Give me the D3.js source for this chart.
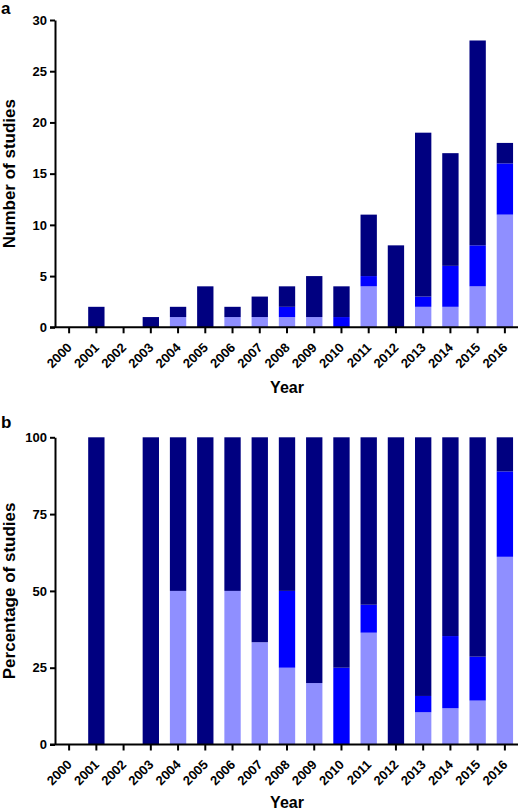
<!DOCTYPE html>
<html>
<head>
<meta charset="utf-8">
<script src="https://cdn.jsdelivr.net/npm/d3@7"></script>
<style>
  body { margin: 0; background: #fff; }
  svg { display: block; }
  text { font-family: "Liberation Sans", Arial, Helvetica, sans-serif; font-weight: bold; fill: #000; }
</style>
</head>
<body>
<svg id="chart" width="520" height="811"></svg>
<script>
// ---- Data ----
const years = ["2000","2001","2002","2003","2004","2005","2006","2007","2008","2009","2010","2011","2012","2013","2014","2015","2016"];
const seriesKeys = ["light", "mid", "dark"];
// Panel a: number of studies
const countLight = [0, 0, 0, 0, 1, 0, 1, 1, 1, 1, 0, 4, 0, 2, 2, 4, 11];
const countMid   = [0, 0, 0, 0, 0, 0, 0, 0, 1, 0, 1, 1, 0, 1, 4, 4, 5];
const countDark  = [0, 2, 0, 1, 1, 4, 1, 2, 2, 4, 3, 6, 8, 16, 11, 20, 2];
// Panel b: percentage of studies
const pctLight = [0, 0, 0, 0, 50, 0, 50, 33.3, 25, 20, 0, 36.4, 0, 10.5, 11.8, 14.3, 61.1];
const pctMid   = [0, 0, 0, 0, 0, 0, 0, 0, 25, 0, 25, 9.1, 0, 5.3, 23.5, 14.3, 27.8];
const pctDark  = [0, 100, 0, 100, 50, 100, 50, 66.7, 50, 80, 75, 54.5, 100, 84.2, 64.7, 71.4, 11.1];
const countTicks = [0, 5, 10, 15, 20, 25, 30];
const pctTicks = [0, 25, 50, 75, 100];

const colors = { light: "#8f8fff", mid: "#0000ff", dark: "#000080" };

const svg = d3.select("#chart");
const FONT = "'Liberation Sans', Arial, Helvetica, sans-serif";

function panel(opts) {
  const { letter, letterY, light, mid, dark, yMax, ticks, top, bottom, ylabel, yearLabelY } = opts;
  const x = d3.scaleBand().domain(years).range([55.5, 518.5]).paddingInner(0.4).paddingOuter(0.2);
  const y = d3.scaleLinear().domain([0, yMax]).range([bottom, top]);
  const rows = years.map((yr, i) => ({ year: yr, light: light[i], mid: mid[i], dark: dark[i] }));
  const stacked = d3.stack().keys(seriesKeys)(rows);

  const g = svg.append("g");
  g.selectAll("g.series").data(stacked).join("g")
    .attr("fill", d => colors[d.key])
    .selectAll("rect").data(d => d.filter(p => p[1] > p[0])).join("rect")
    .attr("x", d => x(d.data.year))
    .attr("width", x.bandwidth())
    .attr("y", d => y(d[1]))
    .attr("height", d => y(d[0]) - y(d[1]));

  // y axis
  const ya = g.append("g").attr("transform", "translate(55,0)")
    .call(d3.axisLeft(y).tickValues(ticks).tickSize(5).tickSizeOuter(0).tickPadding(3));
  ya.attr("font-size", 13).attr("font-family", FONT).attr("font-weight", "bold");
  ya.select(".domain").attr("stroke-width", 2);
  ya.selectAll(".tick line").attr("stroke-width", 2);
  ya.selectAll(".tick text").style("font-size", "13px");

  // x axis
  const xa = g.append("g").attr("transform", `translate(0,${bottom})`)
    .call(d3.axisBottom(x).tickSize(6).tickSizeOuter(0));
  xa.attr("font-size", 13).attr("font-family", FONT).attr("font-weight", "bold");
  xa.select(".domain").remove();
  xa.append("line").attr("x1", 50).attr("x2", 518).attr("y1", 0).attr("y2", 0)
    .attr("stroke", "#000").attr("stroke-width", 2);
  xa.selectAll(".tick line").attr("stroke-width", 2);
  xa.selectAll(".tick text")
    .attr("x", 0).attr("y", 0).attr("dy", null)
    .attr("transform", "translate(3.5,21) rotate(-45)")
    .style("text-anchor", "end")
    .style("font-size", "13px");

  // labels
  g.append("text").attr("x", 287).attr("y", yearLabelY).attr("text-anchor", "middle")
    .style("font-size", "16px").text("Year");
  g.append("text").attr("transform", `translate(15,${(top + bottom) / 2}) rotate(-90)`)
    .attr("text-anchor", "middle").style("font-size", "17px").text(ylabel);
  g.append("text").attr("x", 1).attr("y", letterY).style("font-size", "17px").text(letter);
}

panel({ letter: "a", letterY: 14, light: countLight, mid: countMid, dark: countDark, yMax: 30, ticks: countTicks,
        top: 20, bottom: 327.3, ylabel: "Number of studies", yearLabelY: 392.5 });
panel({ letter: "b", letterY: 428, light: pctLight, mid: pctMid, dark: pctDark, yMax: 100, ticks: pctTicks,
        top: 437.3, bottom: 744.5, ylabel: "Percentage of studies", yearLabelY: 808 });
</script>
</body>
</html>
